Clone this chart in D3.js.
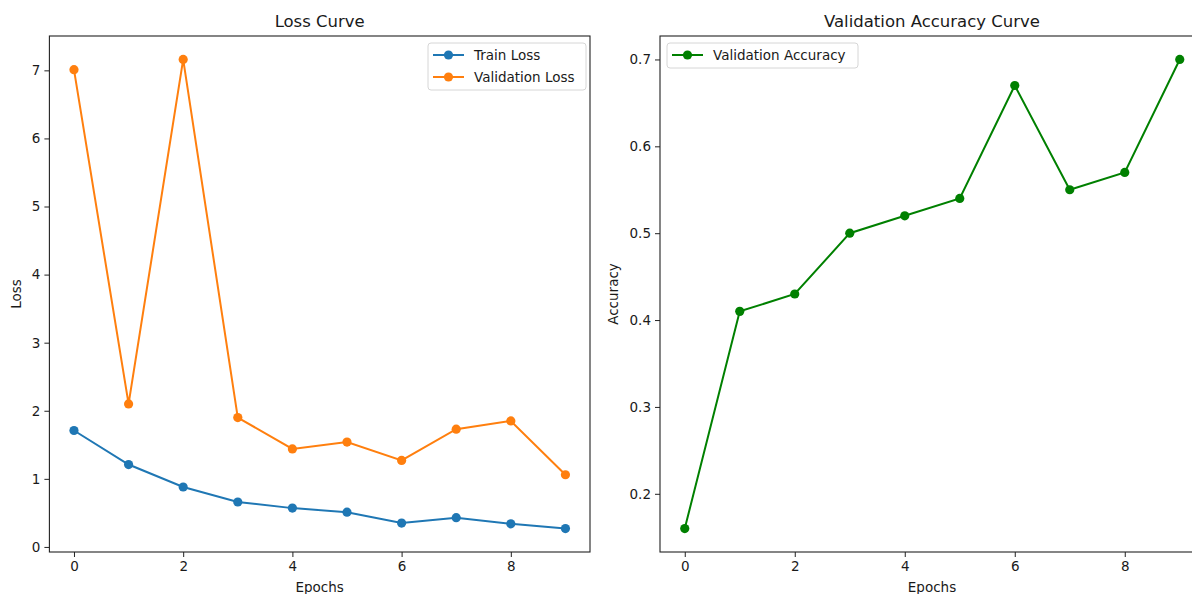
<!DOCTYPE html>
<html>
<head>
<meta charset="utf-8">
<script src="https://cdn.jsdelivr.net/npm/d3@7"></script>
<style>
  body { margin: 0; background: #fff; }
  text { font-family: "DejaVu Sans", sans-serif; fill: #1a1a1a; }
</style>
</head>
<body>
<div id="chart"></div>
<script>
// data
const epochs = [0, 1, 2, 3, 4, 5, 6, 7, 8, 9]
const trainLoss = [1.71, 1.21, 0.88, 0.66, 0.57, 0.51, 0.35, 0.43, 0.34, 0.27]
const valLoss = [7.01, 2.10, 7.16, 1.90, 1.44, 1.54, 1.27, 1.73, 1.85, 1.06]
const valAcc = [0.16, 0.41, 0.43, 0.50, 0.52, 0.54, 0.67, 0.55, 0.57, 0.70]
const xTicks = [0, 2, 4, 6, 8]
const lossTicks = [0, 1, 2, 3, 4, 5, 6, 7]
const accTicks = [0.2, 0.3, 0.4, 0.5, 0.6, 0.7]

const width = 1192
const height = 594

const svg = d3.select("#chart")
    .append("svg")
    .attr("width", width)
    .attr("height", height)

// matplotlib style 5% padding
function padded(vals) {
    const [lo, hi] = d3.extent(vals)
    const m = (hi - lo) * 0.05
    return [lo - m, hi + m]
}

function drawPanel(opts) {
    const x = d3.scaleLinear().domain(padded(epochs)).range([opts.left, opts.right])
    const y = d3.scaleLinear().domain(padded(opts.series.flatMap(s => s.values))).range([552, 36])

    const g = svg.append("g")

    // axes
    g.append("g")
        .attr("transform", "translate(0,552)")
        .call(d3.axisBottom(x).tickValues(xTicks).tickSize(5).tickPadding(4).tickFormat(d3.format("d")))
        .call(a => a.select(".domain").remove())
        .call(a => a.selectAll("text").style("font-size", "13.5px").attr("font-family", null))
        .call(a => a.selectAll("line").attr("stroke", "#222"))

    g.append("g")
        .attr("transform", "translate(" + opts.left + ",0)")
        .call(d3.axisLeft(y).tickValues(opts.yTicks).tickSize(5).tickPadding(4).tickFormat(opts.yFormat))
        .call(a => a.select(".domain").remove())
        .call(a => a.selectAll("text").style("font-size", "13.5px").attr("font-family", null))
        .call(a => a.selectAll("line").attr("stroke", "#222"))

    // lines + markers
    const line = d3.line().x((d, i) => x(epochs[i])).y(d => y(d))
    opts.series.forEach(s => {
        g.append("path")
            .datum(s.values)
            .attr("d", line)
            .style("fill", "none")
            .style("stroke", s.color)
            .style("stroke-width", 2)
        g.append("g")
            .selectAll("circle")
            .data(s.values)
            .enter()
            .append("circle")
            .attr("cx", (d, i) => x(epochs[i]))
            .attr("cy", d => y(d))
            .attr("r", 4.6)
            .style("fill", s.color)
    })

    // frame
    g.append("rect")
        .attr("x", opts.left)
        .attr("y", 36)
        .attr("width", opts.right - opts.left)
        .attr("height", 552 - 36)
        .style("fill", "none")
        .style("stroke", "#222")
        .style("stroke-width", 1.1)

    // title and labels
    const mid = (opts.left + opts.right) / 2
    g.append("text")
        .attr("x", opts.titleX || mid)
        .attr("y", 27)
        .text(opts.title)
        .style("font-size", "16.5px")
        .style("text-anchor", "middle")
    g.append("text")
        .attr("x", opts.titleX || mid)
        .attr("y", 592)
        .text("Epochs")
        .style("font-size", "13.5px")
        .style("text-anchor", "middle")
    g.append("text")
        .attr("transform", "translate(" + opts.ylabelX + ",294) rotate(-90)")
        .text(opts.ylabel)
        .style("font-size", "13.5px")
        .style("text-anchor", "middle")

    // legend
    const lg = g.append("g").attr("transform", "translate(" + opts.legendX + ",43)")
    lg.append("rect")
        .attr("width", opts.legendW)
        .attr("height", 3 + opts.series.length * 22)
        .attr("rx", 3)
        .style("fill", "#fff")
        .style("fill-opacity", 0.8)
        .style("stroke", "#d6d6d6")
    opts.series.forEach((s, i) => {
        const ly = 12 + i * 22
        lg.append("line")
            .attr("x1", 5).attr("x2", 36)
            .attr("y1", ly).attr("y2", ly)
            .style("stroke", s.color)
            .style("stroke-width", 2)
        lg.append("circle")
            .attr("cx", 20.5).attr("cy", ly).attr("r", 4.6)
            .style("fill", s.color)
        lg.append("text")
            .attr("x", 46).attr("y", ly + 5)
            .text(s.name)
            .style("font-size", "13.5px")
    })
}

drawPanel({
    left: 49.4, right: 590,
    title: "Loss Curve", ylabel: "Loss", ylabelX: 21,
    yTicks: lossTicks, yFormat: d3.format("d"),
    legendX: 428, legendW: 158,
    series: [
        { name: "Train Loss", values: trainLoss, color: "#1f77b4" },
        { name: "Validation Loss", values: valLoss, color: "#ff7f0e" }
    ]
})

drawPanel({
    left: 660, right: 1204.5, titleX: 932,
    title: "Validation Accuracy Curve", ylabel: "Accuracy", ylabelX: 618,
    yTicks: accTicks, yFormat: d3.format(".1f"),
    legendX: 667, legendW: 191,
    series: [
        { name: "Validation Accuracy", values: valAcc, color: "#008000" }
    ]
})
</script>
</body>
</html>
